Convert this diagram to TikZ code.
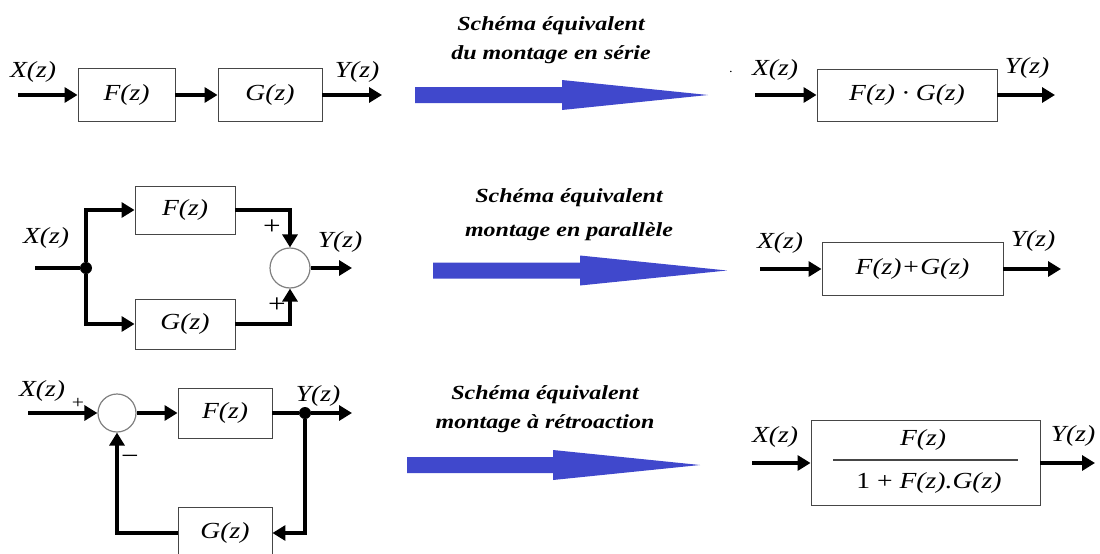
\documentclass[tikz,border=0pt]{standalone}
\usepackage{fontspec}
\setmainfont{Liberation Serif}[FakeStretch=1.2]
\usetikzlibrary{arrows.meta}
\definecolor{bleuFleche}{RGB}{64,72,204}
\definecolor{grisBord}{RGB}{70,70,70}

\begin{document}
\begin{tikzpicture}[x=1pt,y=-1pt,
    bloc/.style={draw=grisBord,line width=0.9pt,inner sep=0pt,
                 font=\itshape\fontsize{23}{26}\selectfont},
    sommateur/.style={circle,draw=gray,line width=1.2pt,fill=white,
                      minimum size=40pt,inner sep=0pt},
    jonction/.style={circle,fill=black,minimum size=12pt,inner sep=0pt},
    signal/.style={line width=3.2pt,-{Triangle[length=13pt,width=15pt]}},
    fil/.style={line width=3.2pt},
    etiquette/.style={font=\itshape\fontsize{23}{26}\selectfont},
    signe/.style={font=\fontsize{26}{28}\selectfont},
    titre/.style={align=center,font=\bfseries\itshape\fontsize{20}{29}\selectfont}]

  \useasboundingbox (0,0) rectangle (1100,554);

  % montage en serie
  \coordinate (serieIn) at (18,95);
  \coordinate (serieOut) at (382,95);
  \node[bloc,minimum width=97pt,minimum height=53pt] (serieF) at (126.5,95) {F(z)};
  \node[bloc,minimum width=104pt,minimum height=53pt] (serieG) at (270,95) {G(z)};
  \node[etiquette] (serieX) at (33,72) {X(z)};
  \node[etiquette] (serieY) at (357,72) {Y(z)};
  \draw[signal] (serieIn) -- (serieF.west);
  \draw[signal] (serieF.east) -- (serieG.west);
  \draw[signal] (serieG.east) -- (serieOut);

  \coordinate (serieEqIn) at (755,95);
  \coordinate (serieEqOut) at (1055,95);
  \node[bloc,minimum width=180pt,minimum height=52pt] (serieEq) at (907,95) {F(z) · G(z)};
  \node[etiquette] (serieEqX) at (775,70) {X(z)};
  \node[etiquette] (serieEqY) at (1027,68) {Y(z)};
  \node[font=\fontsize{12}{12}\selectfont] (point) at (731,72) {.};
  \draw[signal] (serieEqIn) -- (serieEq.west);
  \draw[signal] (serieEq.east) -- (serieEqOut);

  % montage en parallele
  \coordinate (paraIn) at (35,268);
  \coordinate (paraOut) at (352,268);
  \node[jonction] (paraJ) at (86,268) {};
  \node[bloc,minimum width=100pt,minimum height=48pt] (paraF) at (185,210) {F(z)};
  \node[bloc,minimum width=100pt,minimum height=50pt] (paraG) at (185,324) {G(z)};
  \node[sommateur] (paraS) at (290,268) {};
  \node[etiquette] (paraX) at (46,238) {X(z)};
  \node[etiquette] (paraY) at (340,242) {Y(z)};
  \node[signe] (paraPlusA) at (272,227) {+};
  \node[signe] (paraPlusB) at (277,305) {+};
  \draw[fil] (paraIn) -- (paraJ);
  \draw[signal] (paraJ) |- (paraF.west);
  \draw[signal] (paraJ) |- (paraG.west);
  \draw[signal] (paraF.east) -| (paraS.north);
  \draw[signal] (paraG.east) -| (paraS.south);
  \draw[signal] (paraS.east) -- (paraOut);

  \coordinate (paraEqIn) at (760,269);
  \coordinate (paraEqOut) at (1061,269);
  \node[bloc,minimum width=181pt,minimum height=53pt] (paraEq) at (912.5,269) {F(z)+G(z)};
  \node[etiquette] (paraEqX) at (780,243) {X(z)};
  \node[etiquette] (paraEqY) at (1033,241) {Y(z)};
  \draw[signal] (paraEqIn) -- (paraEq.west);
  \draw[signal] (paraEq.east) -- (paraEqOut);

  % montage a retroaction
  \coordinate (retroIn) at (28,413);
  \coordinate (retroOut) at (352,413);
  \node[sommateur,minimum size=38pt] (retroS) at (117,413) {};
  \node[bloc,minimum width=94pt,minimum height=50pt] (retroF) at (225,413) {F(z)};
  \node[bloc,minimum width=94pt,minimum height=52pt] (retroG) at (225,533) {G(z)};
  \node[jonction] (retroJ) at (305,413) {};
  \node[etiquette] (retroX) at (42,391) {X(z)};
  \node[etiquette] (retroY) at (318,396) {Y(z)};
  \node[signe,font=\fontsize{18}{20}\selectfont] (retroPlus) at (78,403) {+};
  \node[signe] (retroMoins) at (130,460) {−};
  \draw[signal] (retroIn) -- (retroS.west);
  \draw[signal] (retroS.east) -- (retroF.west);
  \draw[fil] (retroF.east) -- (retroJ);
  \draw[signal] (retroJ) -- (retroOut);
  \draw[signal] (retroJ) |- (retroG.east);
  \draw[signal] (retroG.west) -| (retroS.south);

  \coordinate (retroEqIn) at (752,463);
  \coordinate (retroEqOut) at (1095,463);
  \node[bloc,minimum width=229pt,minimum height=85pt] (retroEq) at (925.5,463) {};
  \node[etiquette] (retroNum) at (923,440) {F(z)};
  \node[etiquette] (retroDen) at (929,483) {{\upshape 1 +} F(z).G(z)};
  \draw[line width=1.2pt,grisBord] (833,460) -- (1018,460);
  \node[etiquette] (retroEqX) at (775,437) {X(z)};
  \node[etiquette] (retroEqY) at (1073,436) {Y(z)};
  \draw[signal] (retroEqIn) -- (retroEq.west);
  \draw[signal] (retroEq.east) -- (retroEqOut);

  % fleches d'equivalence
  \node[titre] (titreSerie) at (551,40) {Schéma équivalent\\du montage en série};
  \node[titre] (titreParallele) at (569,215) {Schéma équivalent\\[5pt]montage en parallèle};
  \node[titre] (titreRetro) at (545,409) {Schéma équivalent\\montage à rétroaction};
  \foreach \xa/\xb/\xc/\ym in {415/562/708/95, 433/580/727/270.5, 407/553/700/465}
    \fill[bleuFleche] (\xa,\ym-8) -- (\xb,\ym-8) -- (\xb,\ym-15) -- (\xc,\ym)
      -- (\xb,\ym+15) -- (\xb,\ym+8) -- (\xa,\ym+8) -- cycle;
\end{tikzpicture}
\end{document}
